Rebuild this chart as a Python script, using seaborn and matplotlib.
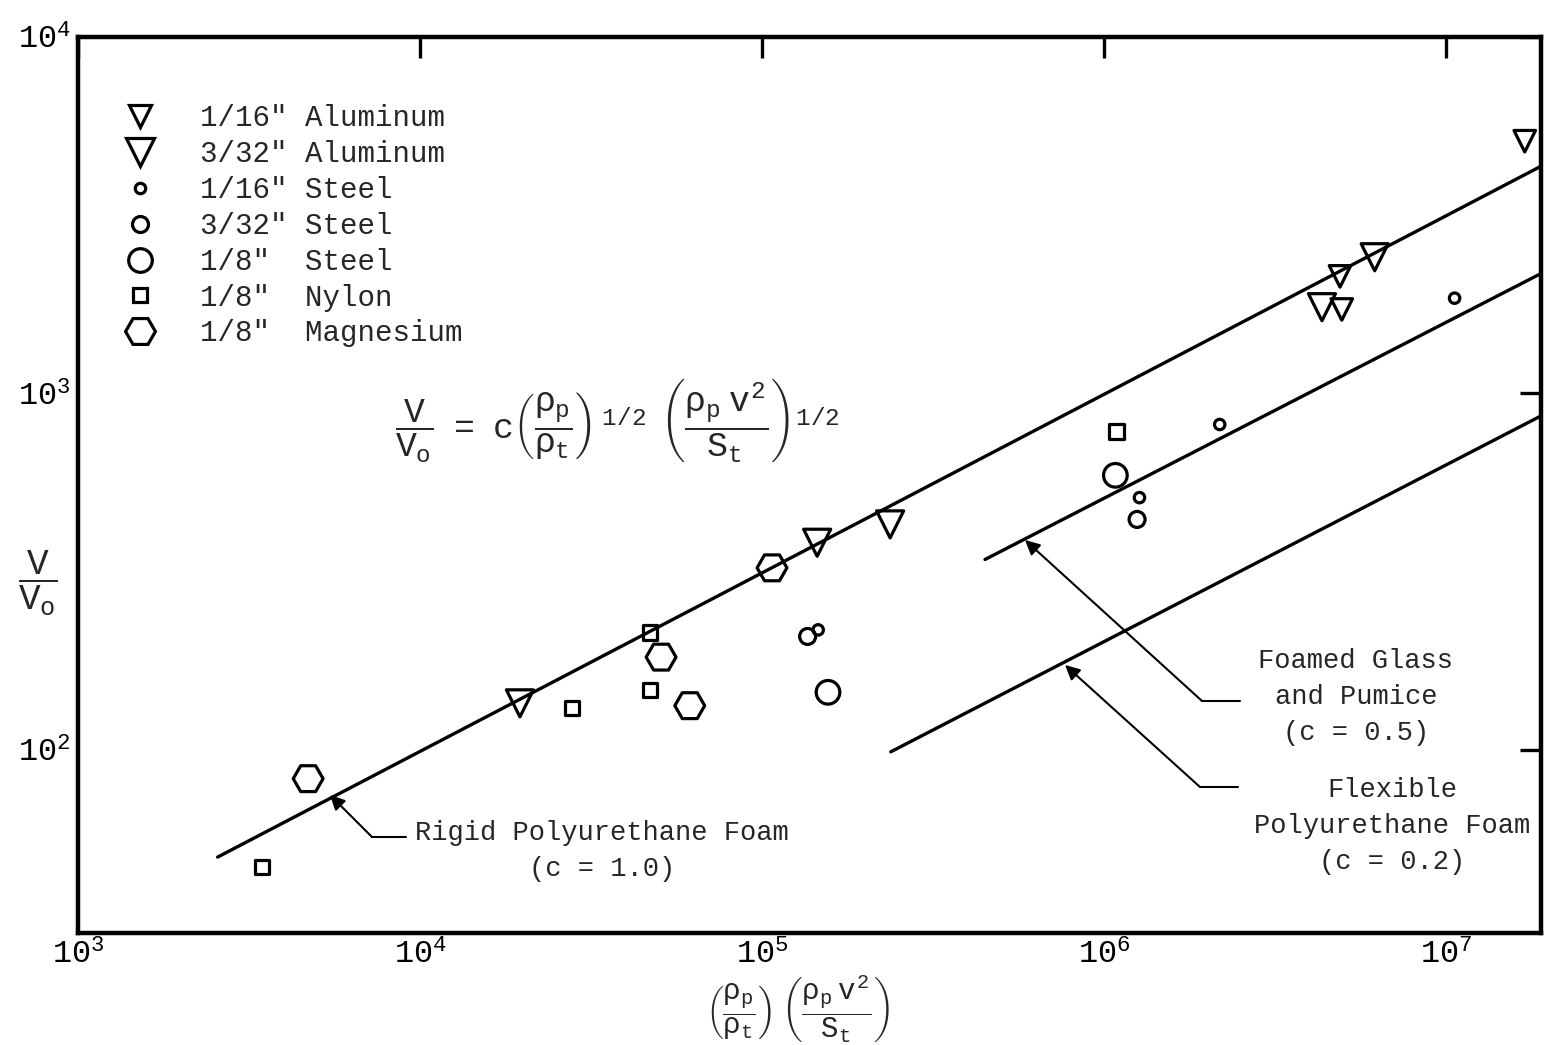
import matplotlib
matplotlib.use('Agg')
import matplotlib.pyplot as plt
import seaborn as sns
from matplotlib.lines import Line2D
from matplotlib.ticker import NullLocator

# ---------------- data ----------------
al16_x = [1.70e7, 4.90e6, 4.96e6]
al16_y = [5100, 2130, 1720]
al32_x = [1.96e4, 1.45e5, 2.37e5, 6.19e6, 4.34e6]
al32_y = [135, 381, 429, 2410, 1745]
st16_x = [1.06e7, 2.18e6, 1.27e6, 1.46e5]
st16_y = [1850, 818, 510, 217]
st32_x = [1.25e6, 1.36e5]
st32_y = [443, 208]
st8_x = [1.08e6, 1.56e5]
st8_y = [589, 145]
ny_x = [1.09e6, 4.71e4, 4.71e4, 2.78e4, 3450]
ny_y = [782, 213, 147, 131, 46.9]
mg_x = [1.07e5, 5.07e4, 6.15e4, 4710]
mg_y = [324, 182, 133, 83]

series_labels = ['1/16" Aluminum', '3/32" Aluminum', '1/16" Steel',
                 '3/32" Steel', '1/8"  Steel', '1/8"  Nylon', '1/8"  Magnesium']

# correlation lines (c = 1.0, 0.5, 0.2): end points
line_x0 = [2560, 4.49e5, 2.38e5]
line_x1 = [1.88e7, 1.88e7, 1.88e7]
line_y0 = [50, 342, 98.7]
line_y1 = [4320, 2160, 861]

xtick_vals = [1e3, 1e4, 1e5, 1e6, 1e7]
xtick_labels = ['$10^{3}$', '$10^{4}$', '$10^{5}$', '$10^{6}$', '$10^{7}$']
ytick_vals = [1e2, 1e3, 1e4]
ytick_labels = ['$10^{2}$', '$10^{3}$', '$10^{4}$']

# ---------------- style ----------------
sns.set_style('white')
plt.rcParams['font.family'] = ['Liberation Mono', 'DejaVu Sans']
plt.rcParams['mathtext.fontset'] = 'custom'
plt.rcParams['mathtext.rm'] = 'Liberation Mono'
plt.rcParams['mathtext.it'] = 'Liberation Mono'
plt.rcParams['mathtext.bf'] = 'Liberation Mono:bold'

W, H = 1545, 1045
fig = plt.figure(figsize=(W / 100, H / 100), dpi=100)
ax = fig.add_axes([78 / W, 1 - 933 / H, (1541 - 78) / W, (933 - 37) / H])
ax.set_xscale('log')
ax.set_yscale('log')
ax.set_xlim(1e3, 10 ** 7.278)
ax.set_ylim(10 ** 1.486, 1e4)

FS = 21
mew = 2.3
series = [
    (al16_x, al16_y, 'v', 15.5),
    (al32_x, al32_y, 'v', 19.5),
    (st16_x, st16_y, 'o', 7.5),
    (st32_x, st32_y, 'o', 11.5),
    (st8_x, st8_y, 'o', 17),
    (ny_x, ny_y, 's', 10.5),
    (mg_x, mg_y, 'H', 21.5),
]
for xs, ys, m, ms in series:
    sns.scatterplot(x=xs, y=ys, marker=m, s=ms ** 2, color='black',
                    ax=ax, legend=False, zorder=3)
    coll = ax.collections[-1]
    coll.set_facecolor('none')
    coll.set_edgecolor('black')
    coll.set_linewidth(mew)

for x0, x1, y0, y1 in zip(line_x0, line_x1, line_y0, line_y1):
    sns.lineplot(x=[x0, x1], y=[y0, y1], color='black', lw=2.4, ax=ax,
                 sort=False, estimator=None)

# ticks
ax.set_xticks(xtick_vals)
ax.set_xticklabels(xtick_labels)
ax.set_yticks(ytick_vals)
ax.set_yticklabels(ytick_labels)
ax.xaxis.set_minor_locator(NullLocator())
ax.yaxis.set_minor_locator(NullLocator())
ax.tick_params(direction='in', length=15, width=2.4, top=True, right=True,
               labelsize=23, pad=5, colors='black')
for sp in ax.spines.values():
    sp.set_linewidth(3.2)
    sp.set_color('black')

# legend
handles = [Line2D([], [], marker=m, ls='none', ms=ms, mfc='none', mec='black', mew=mew)
           for _, _, m, ms in series]
ax.legend(handles, series_labels, loc='upper left', bbox_to_anchor=(0.0244, 0.938),
          frameon=False, fontsize=FS, handlelength=1.0, handletextpad=1.55,
          labelspacing=0.27, borderaxespad=0)


def fpx(px, py):
    return (px / W, 1 - py / H)


# equation
fig.text(*fpx(395, 420),
         r'$\dfrac{V}{V_o}\ \ =\ \ c\left(\dfrac{\rho_p}{\rho_t}\right)^{\ 1/2}\ \ '
         r'\left(\dfrac{\rho_p\ v^2}{S_t}\right)^{1/2}$',
         fontsize=25, ha='left', va='center')

# axis labels
fig.text(*fpx(38, 583), r'$\dfrac{V}{V_o}$', fontsize=26, ha='center', va='center')
fig.text(*fpx(798, 1009),
         r'$\left(\dfrac{\rho_p}{\rho_t}\right)\ \left(\dfrac{\rho_p\ v^2}{S_t}\right)$',
         fontsize=21, ha='center', va='center')

# annotations
def leader(tip, elbow, end):
    ax.annotate('', xy=fpx(*tip), xycoords='figure fraction',
                xytext=fpx(*elbow), textcoords='figure fraction',
                arrowprops=dict(arrowstyle='-|>', color='black', lw=1.5,
                                mutation_scale=22, shrinkA=0, shrinkB=0))
    ax.annotate('', xy=fpx(*elbow), xycoords='figure fraction',
                xytext=fpx(*end), textcoords='figure fraction',
                arrowprops=dict(arrowstyle='-', color='black', lw=1.5,
                                shrinkA=0, shrinkB=0))


leader((330, 795), (372, 837), (406, 837))
leader((1025, 540), (1202, 701), (1240, 701))
leader((1065, 665), (1200, 787), (1238, 787))

TFS = 19.5
fig.text(*fpx(602, 851), 'Rigid Polyurethane Foam\n(c = 1.0)', fontsize=TFS,
         ha='center', va='center', multialignment='center', linespacing=1.5)
fig.text(*fpx(1356, 697), 'Foamed Glass\nand Pumice\n(c = 0.5)', fontsize=TFS,
         ha='center', va='center', multialignment='center', linespacing=1.5)
fig.text(*fpx(1392, 826), 'Flexible\nPolyurethane Foam\n(c = 0.2)', fontsize=TFS,
         ha='center', va='center', multialignment='center', linespacing=1.5)

fig.savefig('out.png', dpi=100, facecolor='white')
